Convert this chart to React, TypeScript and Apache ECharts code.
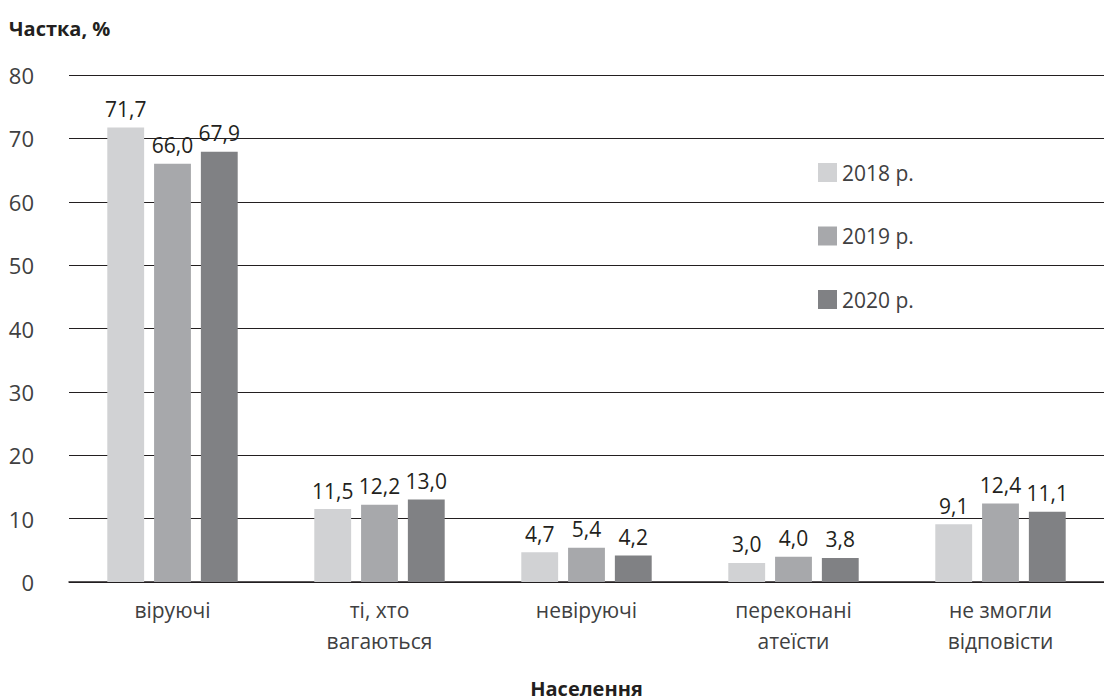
import React, { useEffect, useRef } from "react";
import * as echarts from "echarts";

const categories = ["віруючі", "ті, хто\nвагаються", "невіруючі", "переконані\nатеїсти", "не змогли\nвідповісти"];
const seriesNames = ["2018 р.", "2019 р.", "2020 р."];
const values2018 = [71.7, 11.5, 4.7, 3.0, 9.1];
const values2019 = [66.0, 12.2, 5.4, 4.0, 12.4];
const values2020 = [67.9, 13.0, 4.2, 3.8, 11.1];
const colors = ["#d1d2d4", "#a7a8ab", "#808184"];

const FONT = "'Open Sans', 'Noto Sans', sans-serif";

export default function App() {
  const ref = useRef<HTMLDivElement>(null);
  useEffect(() => {
    if (!ref.current) return;
    const chart = echarts.init(ref.current, undefined, { renderer: "svg" });
    const data = [values2018, values2019, values2020];
    chart.setOption({
      animation: false,
      textStyle: { fontFamily: FONT },
      title: {
        text: "Частка, %",
        left: 4,
        top: 13,
        textStyle: { fontFamily: FONT, fontSize: 20, fontWeight: "bold", color: "#231f20" },
      },
      legend: {
        orient: "vertical",
        left: 813,
        top: 157,
        itemWidth: 19,
        itemHeight: 19,
        itemGap: 42.5,
        icon: "rect",
        data: seriesNames,
        textStyle: { fontFamily: FONT, fontSize: 21, color: "#404041" },
      },
      grid: { left: 69, right: 0, top: 75, bottom: 118, containLabel: false, outerBoundsMode: "none" },
      xAxis: {
        type: "category",
        data: categories,
        name: "Населення",
        nameLocation: "middle",
        nameGap: 96,
        nameTextStyle: { fontFamily: FONT, fontSize: 20, lineHeight: 20, fontWeight: "bold", color: "#231f20" },
        axisLine: { lineStyle: { color: "#231f20", width: 1.5 } },
        axisTick: { show: false },
        axisLabel: { fontFamily: FONT, fontSize: 21, color: "#404041", lineHeight: 31, margin: 12 },
      },
      yAxis: {
        type: "value",
        min: 0,
        max: 80,
        interval: 10,
        axisLine: { show: false },
        axisTick: { show: false },
        axisLabel: { fontFamily: FONT, fontSize: 22, color: "#404041", margin: 35 },
        splitLine: { lineStyle: { color: "#231f20", width: 1 } },
      },
      series: seriesNames.map((name, i) => ({
        name,
        type: "bar",
        data: data[i],
        barGap: "27%",
        barCategoryGap: "37%",
        itemStyle: { color: colors[i] },
        label: {
          show: true,
          position: "top",
          distance: 8,
          fontFamily: FONT,
          fontSize: 21,
          color: "#231f20",
          formatter: (p: any) => Number(p.value).toFixed(1).replace(".", ","),
        },
      })),
    });
    return () => chart.dispose();
  }, []);
  return <div ref={ref} style={{ width: 1104, height: 700, position: "absolute", left: 0, top: 0 }} />;
}
